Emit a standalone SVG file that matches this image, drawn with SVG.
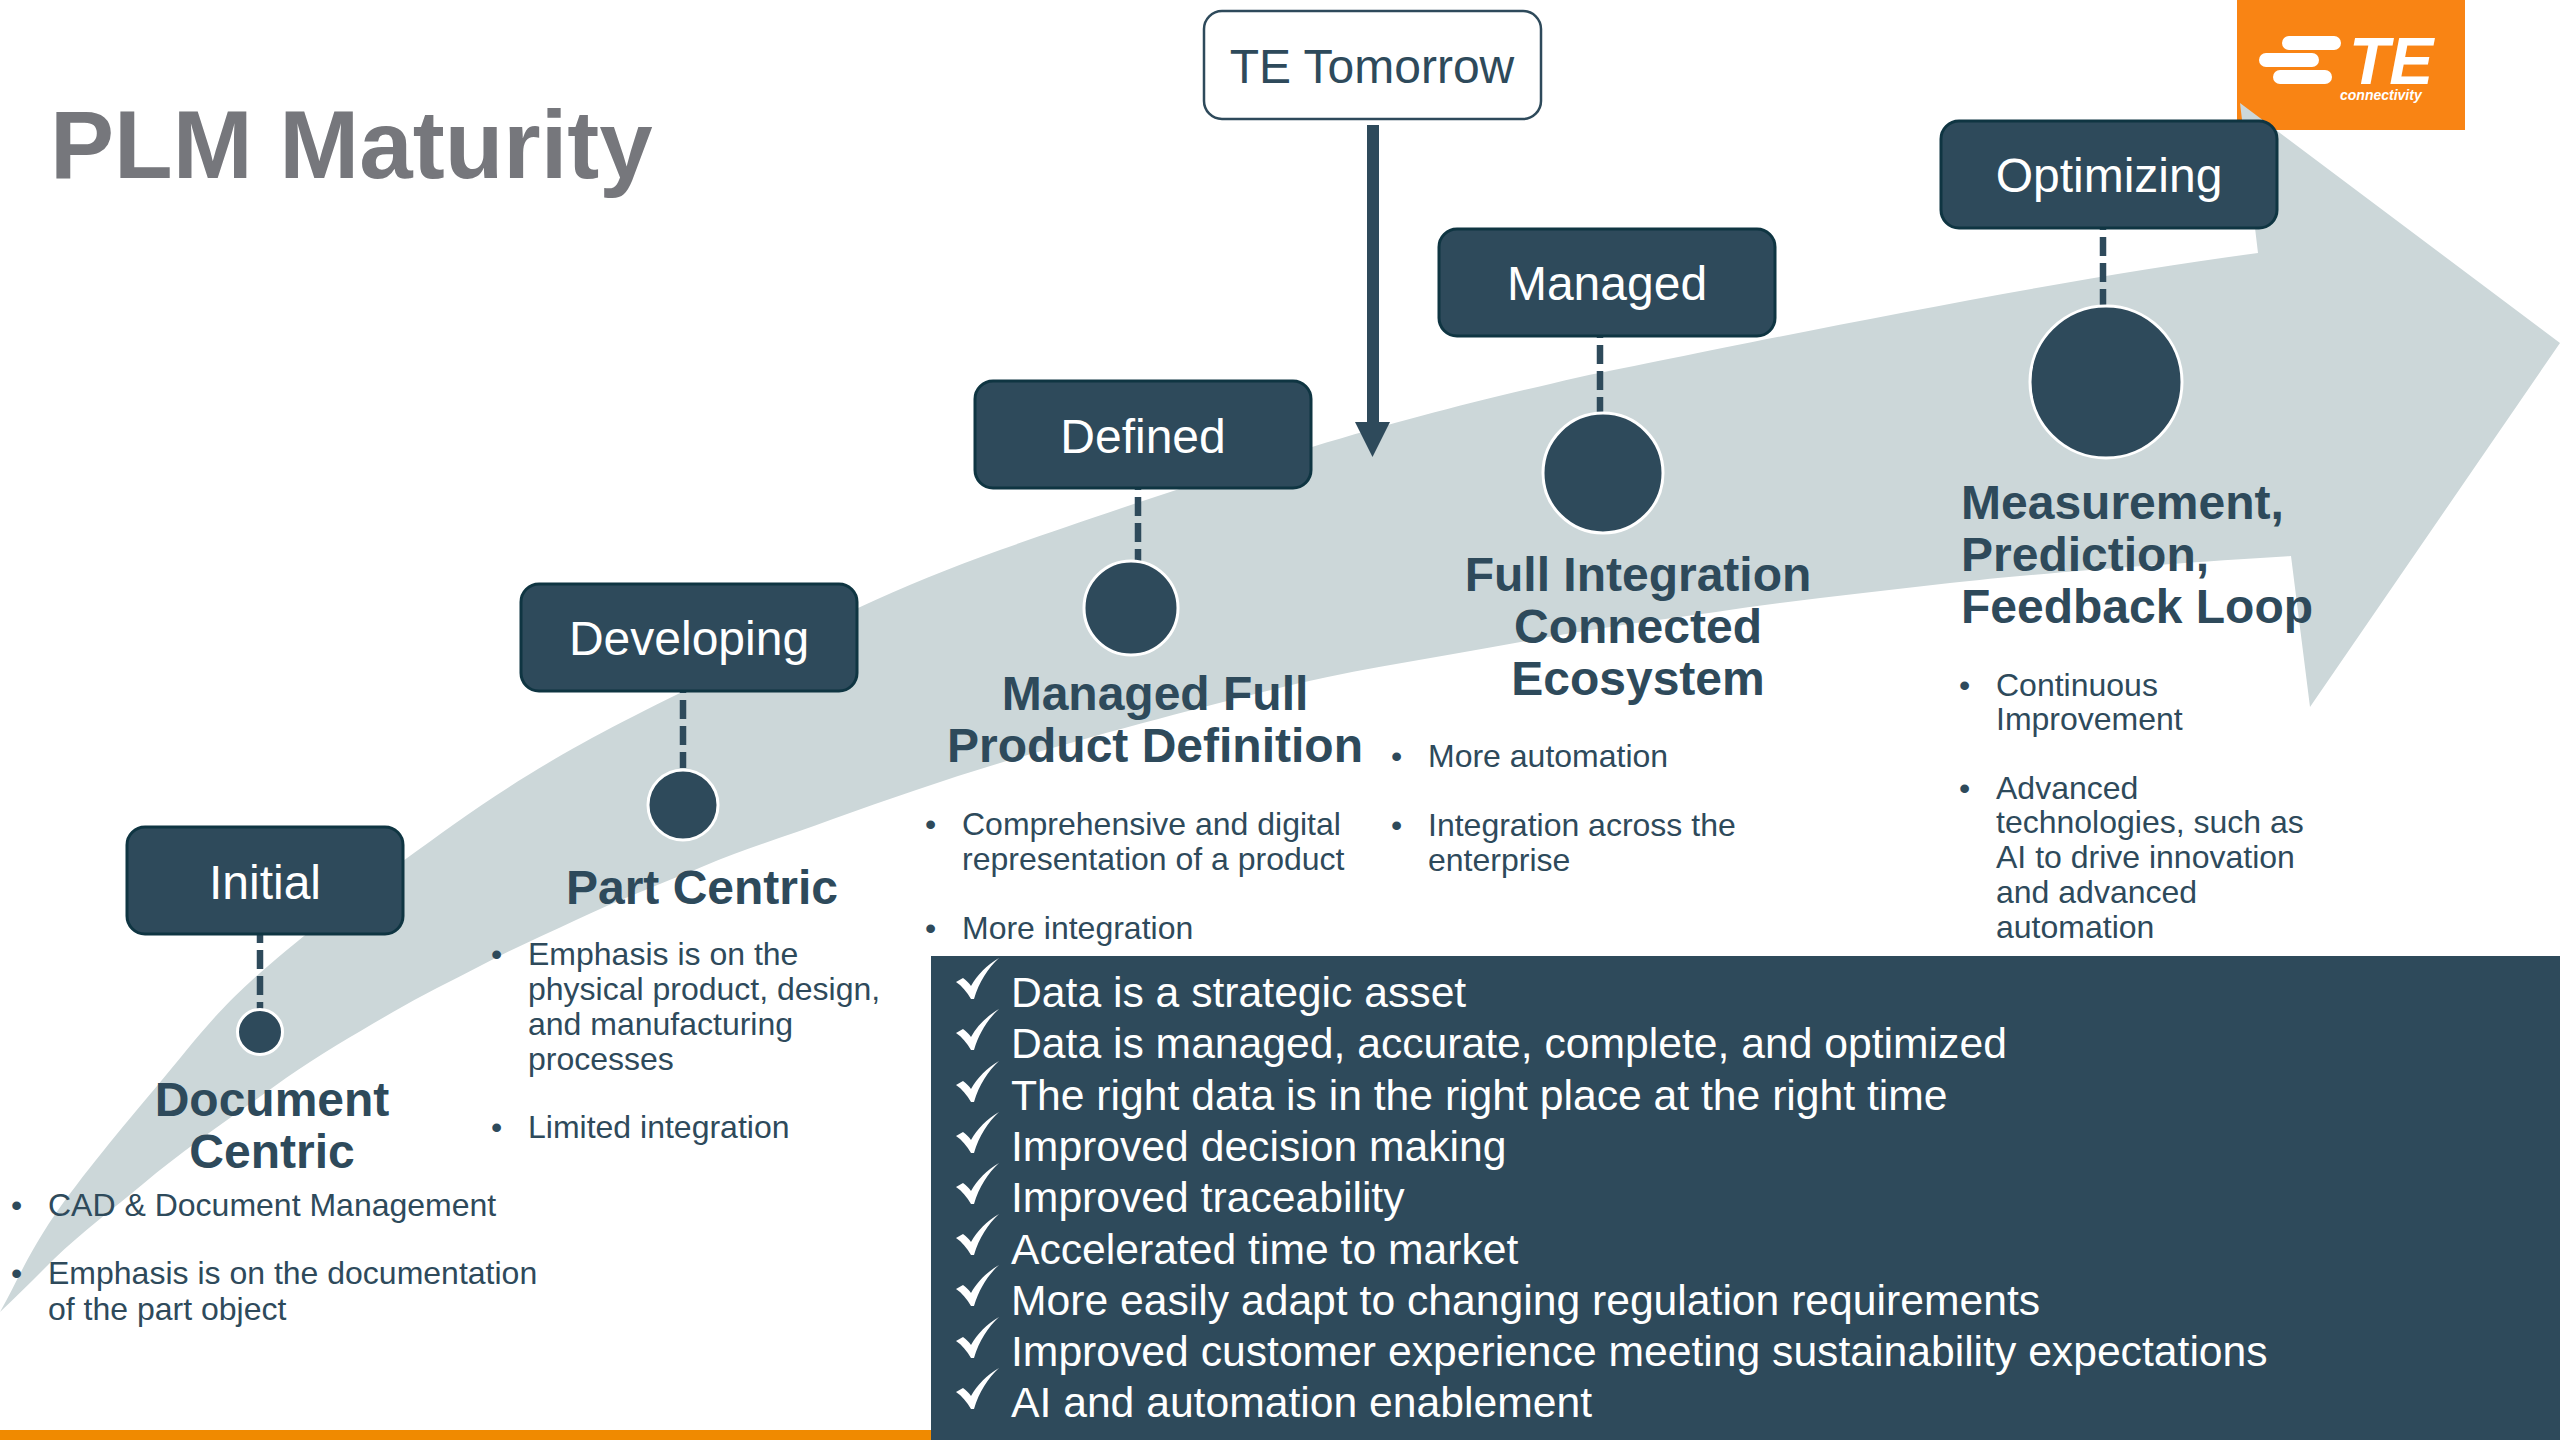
<svg xmlns="http://www.w3.org/2000/svg" width="2560" height="1440" viewBox="0 0 2560 1440">
<style>
text{font-family:"Liberation Sans",Arial,sans-serif}
.box{fill:#2e4a5b;stroke:#0f3542;stroke-width:3}
.lbl{font-size:48px;fill:#fff;text-anchor:middle}
.dot{fill:#2e4a5b;stroke:#fff;stroke-width:3}
.dash{stroke:#2e4a5b;stroke-width:6.5;stroke-dasharray:19 7;fill:none}
.h{font-size:48px;font-weight:700;fill:#2e4a5b}
.m{text-anchor:middle}
.b{font-size:32px;fill:#2e4a5b}
.p{font-size:42.67px;fill:#fff}
.c{fill:#fff}
</style>
<defs>
<path id="chk" d="M43 0C32 10 23 24 18 41L15 41C11 34 6 28 0 24L7 20C10 22 13 25 15 28C21 17 31 7 43 0Z"/>
</defs>
<rect width="2560" height="1440" fill="#fff"/>
<rect x="0" y="1430" width="931" height="10" fill="#f08a00"/>
<g id="logo">
<rect x="2237" y="0" width="228" height="130" fill="#f98414"/>
<rect x="2282" y="36" width="59" height="14" rx="7" fill="#fff"/>
<rect x="2259" y="53" width="60" height="14" rx="7" fill="#fff"/>
<rect x="2273" y="70" width="59" height="14" rx="7" fill="#fff"/>
<text x="2349" y="84" font-size="66" font-weight="700" font-style="italic" fill="#fff">TE</text>
<text x="2340" y="100" font-size="14" font-weight="700" font-style="italic" fill="#fff">connectivity</text>
</g>
<path id="bigArrow" fill="#ccd7d9" d="M0 1312C18 1280 28 1254 54 1216C80 1178 124 1125 157 1086C190 1047 209 1019.500 250 982C291 944.500 348 901 403 861C458 821 507 785 583 743C659 701 778 646 858 608C905 586 950 568 1000 550C1076 523 1215 476 1312 447C1409 418 1480 400 1580 377C1738 345 2050 280 2258 253L2240 103L2560 343L2310 707L2291 556C2175 563 2040 573 1950 583C1870 592 1790 601 1716 612C1650 621 1585 630 1515 643C1445 656 1370 667 1300 683C1200 707 1090 737 1000 763C944 780 888 799 833 819C790 835 747 848 704 866C661 884 620 899 576 920C544 935 512 949 480 966C451 981 422 995 393 1012C357 1033 322 1053 286 1078C238 1113 188 1146 143 1184C113 1209 82 1232 54 1259C36 1277 18 1295 0 1312Z"/>
<text x="50" y="178" font-size="96" font-weight="700" fill="#76777c">PLM Maturity</text>
<g id="connectors">
<line class="dash" x1="260" y1="924" x2="260" y2="1012"/>
<line class="dash" x1="683" y1="674" x2="683" y2="768"/>
<line class="dash" x1="1138" y1="471" x2="1138" y2="562"/>
<line class="dash" x1="1600" y1="319" x2="1600" y2="414"/>
<line class="dash" x1="2103" y1="211" x2="2103" y2="306"/>
<rect x="1367" y="125" width="12" height="297" fill="#2e4a5b"/>
<polygon points="1355,422 1390,422 1372.500,457" fill="#2e4a5b"/>
</g>
<g id="tomorrow">
<rect x="1204" y="11" width="337" height="108" rx="18" fill="#fff" stroke="#2e4a5b" stroke-width="2.500"/>
<text x="1372" y="83" font-size="48" fill="#2e4a5b" text-anchor="middle">TE Tomorrow</text>
</g>
<g id="initial">
<rect class="box" x="127" y="827" width="276" height="107" rx="18"/>
<text class="lbl" x="265" y="899">Initial</text>
<circle class="dot" cx="260" cy="1032" r="22.500"/>
<text class="h m" x="272" y="1116">Document</text>
<text class="h m" x="272" y="1168">Centric</text>
<text class="b" x="11" y="1216">•</text><text class="b" x="48" y="1216">CAD &amp; Document Management</text>
<text class="b" x="11" y="1284">•</text><text class="b" x="48" y="1284">Emphasis is on the documentation</text>
<text class="b" x="48" y="1320">of the part object</text>
</g>
<g id="developing">
<rect class="box" x="521" y="584" width="336" height="107" rx="18"/>
<text class="lbl" x="689" y="655">Developing</text>
<circle class="dot" cx="683" cy="805" r="35"/>
<text class="h m" x="702" y="904">Part Centric</text>
<text class="b" x="491" y="965">•</text><text class="b" x="528" y="965">Emphasis is on the</text>
<text class="b" x="528" y="1000">physical product, design,</text>
<text class="b" x="528" y="1035">and manufacturing</text>
<text class="b" x="528" y="1070">processes</text>
<text class="b" x="491" y="1138">•</text><text class="b" x="528" y="1138">Limited integration</text>
</g>
<g id="defined">
<rect class="box" x="975" y="381" width="336" height="107" rx="18"/>
<text class="lbl" x="1143" y="453">Defined</text>
<circle class="dot" cx="1131" cy="608" r="47"/>
<text class="h m" x="1155" y="710">Managed Full</text>
<text class="h m" x="1155" y="762">Product Definition</text>
<text class="b" x="925" y="835">•</text><text class="b" x="962" y="835">Comprehensive and digital</text>
<text class="b" x="962" y="870">representation of a product</text>
<text class="b" x="925" y="939">•</text><text class="b" x="962" y="939">More integration</text>
</g>
<g id="managed">
<rect class="box" x="1439" y="229" width="336" height="107" rx="18"/>
<text class="lbl" x="1607" y="300">Managed</text>
<circle class="dot" cx="1603" cy="473" r="60"/>
<text class="h m" x="1638" y="591">Full Integration</text>
<text class="h m" x="1638" y="643">Connected</text>
<text class="h m" x="1638" y="695">Ecosystem</text>
<text class="b" x="1391" y="767">•</text><text class="b" x="1428" y="767">More automation</text>
<text class="b" x="1391" y="836">•</text><text class="b" x="1428" y="836">Integration across the</text>
<text class="b" x="1428" y="871">enterprise</text>
</g>
<g id="optimizing">
<rect class="box" x="1941" y="121" width="336" height="107" rx="18"/>
<text class="lbl" x="2109" y="192">Optimizing</text>
<circle class="dot" cx="2106" cy="382" r="76"/>
<text class="h" x="1961" y="519">Measurement,</text>
<text class="h" x="1961" y="571">Prediction,</text>
<text class="h" x="1961" y="623">Feedback Loop</text>
<text class="b" x="1959" y="696">•</text><text class="b" x="1996" y="696">Continuous</text>
<text class="b" x="1996" y="730">Improvement</text>
<text class="b" x="1959" y="799">•</text><text class="b" x="1996" y="799">Advanced</text>
<text class="b" x="1996" y="833">technologies, such as</text>
<text class="b" x="1996" y="868">AI to drive innovation</text>
<text class="b" x="1996" y="903">and advanced</text>
<text class="b" x="1996" y="938">automation</text>
</g>
<g id="benefits">
<rect x="931" y="956" width="1629" height="484" fill="#2e4a5b"/>
<use class="c" href="#chk" x="956" y="958"/><text class="p" x="1011" y="1007">Data is a strategic asset</text>
<use class="c" href="#chk" x="956" y="1009"/><text class="p" x="1011" y="1058">Data is managed, accurate, complete, and optimized</text>
<use class="c" href="#chk" x="956" y="1061"/><text class="p" x="1011" y="1110">The right data is in the right place at the right time</text>
<use class="c" href="#chk" x="956" y="1112"/><text class="p" x="1011" y="1161">Improved decision making</text>
<use class="c" href="#chk" x="956" y="1163"/><text class="p" x="1011" y="1212">Improved traceability</text>
<use class="c" href="#chk" x="956" y="1214"/><text class="p" x="1011" y="1264">Accelerated time to market</text>
<use class="c" href="#chk" x="956" y="1265"/><text class="p" x="1011" y="1315">More easily adapt to changing regulation requirements</text>
<use class="c" href="#chk" x="956" y="1317"/><text class="p" x="1011" y="1366">Improved customer experience meeting sustainability expectations</text>
<use class="c" href="#chk" x="956" y="1368"/><text class="p" x="1011" y="1417">AI and automation enablement</text>
</g>
</svg>
